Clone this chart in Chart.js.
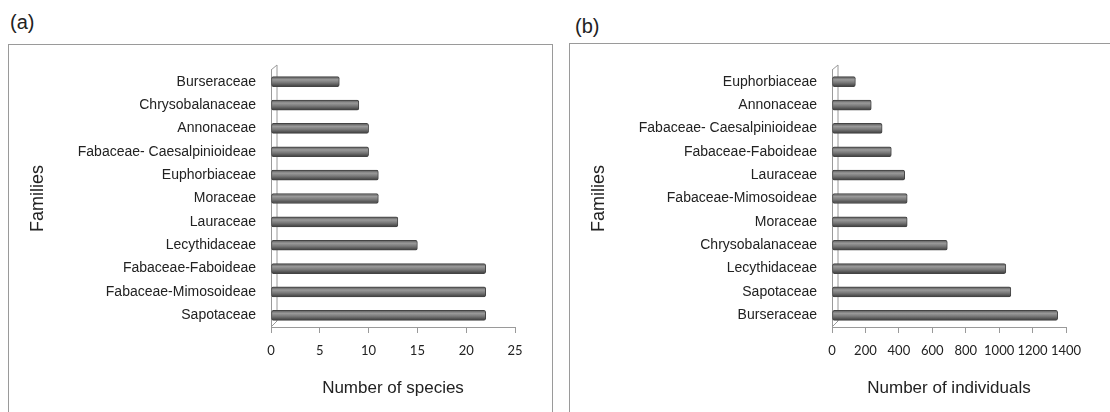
<!DOCTYPE html>
<html>
<head>
<meta charset="utf-8">
<script src="https://cdn.jsdelivr.net/npm/chart.js@4/dist/chart.umd.min.js"></script>
<style>
  body { margin: 0; width: 1110px; height: 412px; overflow: hidden; background: #fff; position: relative; font-family: "Liberation Sans", Arial, sans-serif; }
  .box { position: absolute; border: 1px solid #9a9a9a; }
  .tag { position: absolute; font-size: 20px; color: #222; line-height: 24px; }
  canvas { position: absolute; }
</style>
</head>
<body>
<div class="box" style="left:8px; top:44px; width:543px; height:400px;"></div>
<div class="box" style="left:569px; top:43px; width:560px; height:400px;"></div>
<div class="tag" style="left:10px; top:10px;">(a)</div>
<div class="tag" style="left:575px; top:14px;">(b)</div>
<canvas id="chartA" style="left:9px; top:45px; width:542px; height:367px;"></canvas>
<canvas id="chartB" style="left:570px; top:45px; width:540px; height:367px;"></canvas>
<script>
// panel (a): number of species per family (top to bottom)
const speciesFamilies = ["Burseraceae", "Chrysobalanaceae", "Annonaceae", "Fabaceae- Caesalpinioideae",
  "Euphorbiaceae", "Moraceae", "Lauraceae", "Lecythidaceae", "Fabaceae-Faboideae",
  "Fabaceae-Mimosoideae", "Sapotaceae"];
const speciesCounts = [7, 9, 10, 10, 11, 11, 13, 15, 22, 22, 22];
const speciesTicks = [0, 5, 10, 15, 20, 25];

// panel (b): number of individuals per family (top to bottom)
const individualFamilies = ["Euphorbiaceae", "Annonaceae", "Fabaceae- Caesalpinioideae", "Fabaceae-Faboideae",
  "Lauraceae", "Fabaceae-Mimosoideae", "Moraceae", "Chrysobalanaceae", "Lecythidaceae",
  "Sapotaceae", "Burseraceae"];
const individualCounts = [140, 235, 300, 355, 435, 450, 450, 690, 1040, 1070, 1350];
const individualTicks = [0, 200, 400, 600, 800, 1000, 1200, 1400];

const axisGray = "#9a9a9a";
const textColor = "#222";

function barFill(context) {
  const chart = context.chart;
  const y = chart.scales.y.getPixelForValue(context.dataIndex);
  if (!isFinite(y)) return "#7a7a7a";
  const g = chart.ctx.createLinearGradient(0, y - 5, 0, y + 5);
  g.addColorStop(0, "#555555");
  g.addColorStop(0.3, "#9a9a9a");
  g.addColorStop(0.6, "#787878");
  g.addColorStop(1, "#3c3c3c");
  return g;
}

// back wall of the pseudo-3D plot
const wallPlugin = {
  id: "wall",
  beforeDatasetsDraw(chart) {
    const { ctx, chartArea } = chart;
    const l = chartArea.left, t = chartArea.top, b = chartArea.bottom;
    ctx.save();
    ctx.strokeStyle = axisGray;
    ctx.lineWidth = 1;
    ctx.beginPath();
    ctx.moveTo(l, t);
    ctx.lineTo(l + 6, t - 5);
    ctx.lineTo(l + 6, b - 6);
    ctx.lineTo(l, b);
    ctx.stroke();
    ctx.restore();
  }
};

function makeChart(id, families, counts, ticks, xTitle, rightPad) {
  new Chart(document.getElementById(id), {
    type: "bar",
    data: {
      labels: families,
      datasets: [{
        data: counts,
        backgroundColor: barFill,
        borderColor: "#444444",
        borderWidth: 1,
        borderSkipped: false,
        borderRadius: 2,
        barThickness: 10
      }]
    },
    options: {
      indexAxis: "y",
      responsive: false,
      animation: false,
      events: [],
      layout: { padding: { top: 25, right: rightPad, bottom: 0, left: 0 } },
      plugins: { legend: { display: false }, tooltip: { enabled: false } },
      scales: {
        x: {
          min: ticks[0],
          max: ticks[ticks.length - 1],
          afterBuildTicks: (scale) => { scale.ticks = ticks.map((v) => ({ value: v })); },
          afterFit: (scale) => { scale.height = 85; },
          grid: { drawOnChartArea: false, drawTicks: true, tickLength: 6, color: axisGray },
          border: { color: axisGray },
          ticks: {
            color: textColor,
            padding: 10,
            autoSkip: false,
            maxRotation: 0,
            minRotation: 0,
            callback: (v) => String(v),
            font: { family: "Lato", size: 13 }
          },
          title: {
            display: true,
            text: xTitle,
            color: textColor,
            font: { family: "Liberation Sans", size: 17 },
            padding: { top: 0, bottom: 13 }
          }
        },
        y: {
          afterFit: (scale) => { scale.width = 262; },
          grid: { display: false, drawTicks: false },
          border: { color: axisGray },
          ticks: { color: textColor, padding: 15, font: { family: "Liberation Sans", size: 14 } },
          title: {
            display: true,
            text: "Families",
            color: textColor,
            font: { family: "Liberation Sans", size: 18 },
            padding: { top: 18, bottom: 0 }
          }
        }
      }
    },
    plugins: [wallPlugin]
  });
}

makeChart("chartA", speciesFamilies, speciesCounts, speciesTicks, "Number of species", 36);
makeChart("chartB", individualFamilies, individualCounts, individualTicks, "Number of individuals", 44);
</script>
</body>
</html>
